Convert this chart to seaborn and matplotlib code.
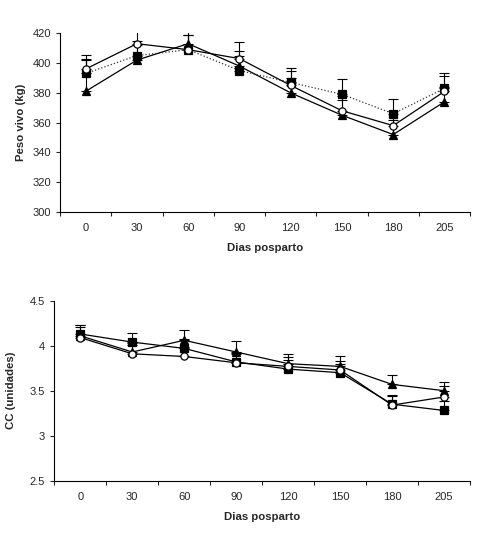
import numpy as np
import pandas as pd
import matplotlib
matplotlib.use("Agg")
import matplotlib.pyplot as plt
import seaborn as sns
from matplotlib.ticker import FixedLocator, FormatStrFormatter

dias = ["0", "30", "60", "90", "120", "150", "180", "205"]

# Peso vivo (kg)
peso_circulo = [396, 413, 409, 403, 385, 368, 358, 381]
peso_triangulo = [381, 402, 413, 398, 380, 365, 352, 374]
peso_cuadrado = [393, 405, 409, 395, 387, 379, 366, 383]
peso_err_circulo = [9.5, 10, 10, 11, 10, 10, 10, 10]
peso_err_triangulo = [21, 10, 9, 10, 10, 10, 10, 10]
peso_err_cuadrado = [9.5, 10, 10, 10, 9.5, 10, 10, 10]

# Condicion corporal (unidades)
cc_circulo = [4.09, 3.91, 3.88, 3.81, 3.77, 3.73, 3.34, 3.43]
cc_triangulo = [4.11, 3.93, 4.06, 3.93, 3.80, 3.77, 3.57, 3.50]
cc_cuadrado = [4.13, 4.04, 3.97, 3.82, 3.74, 3.70, 3.35, 3.28]
cc_err_circulo = [0.12, 0.1, 0.1, 0.1, 0.1, 0.1, 0.1, 0.12]
cc_err_triangulo = [0.12, 0.1, 0.11, 0.12, 0.11, 0.11, 0.1, 0.1]
cc_err_cuadrado = [0.1, 0.1, 0.1, 0.1, 0.1, 0.1, 0.1, 0.1]

sns.set_style("ticks")
plt.rcParams["font.family"] = ["Liberation Sans", "DejaVu Sans"]

fig = plt.figure(figsize=(4.78, 5.36), dpi=100)
ax1 = fig.add_axes([0.1255, 0.6045, 0.858, 0.3334])
ax2 = fig.add_axes([0.1136, 0.1032, 0.8697, 0.3358])

pos = np.arange(len(dias))


def draw(ax, series, ylim, yticks, ylabel, fmt, ylabel_x):
    for vals, err, marker, face, ls, col in series:
        ax.errorbar(pos, vals, yerr=[np.zeros(len(err)), err], fmt="none",
                    ecolor="black", elinewidth=0.8, capsize=3.5, capthick=0.8,
                    zorder=2)
    for vals, err, marker, face, ls, col in series:
        df = pd.DataFrame({"x": pos, "y": vals})
        sns.lineplot(data=df, x="x", y="y", ax=ax, color=col, linestyle=ls,
                     linewidth=0.9, marker=marker, markersize=5.2,
                     markerfacecolor=face, markeredgecolor="black",
                     markeredgewidth=0.9, zorder=3)
    ax.set_xlim(-0.5, len(dias) - 0.5)
    ax.set_ylim(*ylim)
    ax.set_yticks(yticks)
    ax.yaxis.set_major_formatter(FormatStrFormatter(fmt))
    ax.xaxis.set_major_locator(FixedLocator(np.arange(-0.5, len(dias), 1.0)))
    ax.xaxis.set_minor_locator(FixedLocator(pos))
    ax.set_xticklabels([])
    ax.set_xticklabels(dias, minor=True)
    ax.tick_params(axis="x", which="major", length=3, width=0.8, direction="out")
    ax.tick_params(axis="x", which="minor", length=0, pad=8, labelsize=8)
    ax.tick_params(axis="y", length=3, width=0.8, direction="out", labelsize=8, pad=3.5)
    for s in ["top", "right"]:
        ax.spines[s].set_visible(False)
    for s in ["left", "bottom"]:
        ax.spines[s].set_linewidth(0.8)
        ax.spines[s].set_color("black")
    ax.set_xlabel("Dias posparto", fontsize=8.2, fontweight="bold", labelpad=7)
    ax.set_ylabel(ylabel, fontsize=8.2, fontweight="bold")
    ax.yaxis.set_label_coords(ylabel_x, 0.5)


draw(ax1,
     [(peso_triangulo, peso_err_triangulo, "^", "black", "-", "black"),
      (peso_cuadrado, peso_err_cuadrado, "s", "black", ":", "#333333"),
      (peso_circulo, peso_err_circulo, "o", "white", "-", "black")],
     (300, 420), np.arange(300, 421, 20), "Peso vivo (kg)", "%g", -0.083)

draw(ax2,
     [(cc_triangulo, cc_err_triangulo, "^", "black", "-", "black"),
      (cc_cuadrado, cc_err_cuadrado, "s", "black", "-", "black"),
      (cc_circulo, cc_err_circulo, "o", "white", "-", "black")],
     (2.5, 4.5), np.arange(2.5, 4.51, 0.5), "CC (unidades)", "%g", -0.093)

fig.savefig("out.png", dpi=100)
